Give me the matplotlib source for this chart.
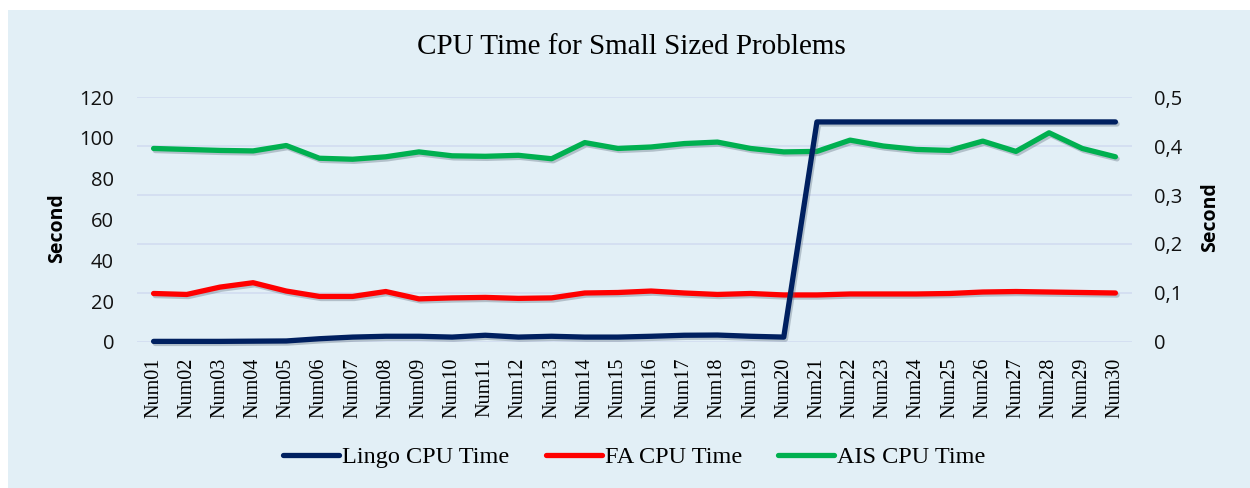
import matplotlib
matplotlib.use("Agg")
import matplotlib.pyplot as plt
from matplotlib.patches import Rectangle
import matplotlib.patheffects as pe

categories = [f"Num{i:02d}" for i in range(1, 31)]

lingo_cpu = [0.3, 0.3, 0.3, 0.4, 0.5, 1.6, 2.4, 2.8, 2.8, 2.4,
             3.3, 2.4, 2.8, 2.4, 2.4, 2.8, 3.3, 3.4, 2.8, 2.4,
             107.8, 107.8, 107.8, 107.8, 107.8, 107.8, 107.8, 107.8, 107.8, 107.8]

fa_cpu = [0.099, 0.097, 0.112, 0.121, 0.104, 0.093, 0.093, 0.103, 0.088, 0.090,
          0.091, 0.089, 0.090, 0.100, 0.101, 0.104, 0.100, 0.097, 0.099, 0.096,
          0.096, 0.098, 0.098, 0.098, 0.099, 0.102, 0.103, 0.102, 0.101, 0.100]

ais_cpu = [0.395, 0.393, 0.391, 0.390, 0.401, 0.375, 0.373, 0.378, 0.388, 0.380,
           0.379, 0.381, 0.374, 0.407, 0.395, 0.398, 0.405, 0.408, 0.395, 0.388,
           0.389, 0.412, 0.400, 0.393, 0.391, 0.410, 0.389, 0.427, 0.395, 0.378]

left_ticks = [0, 20, 40, 60, 80, 100, 120]
right_ticks = [0, 0.1, 0.2, 0.3, 0.4, 0.5]
right_tick_labels = ["0", "0,1", "0,2", "0,3", "0,4", "0,5"]

BG = "#E2EFF6"
GRID = "#D3DEF1"
C_LINGO = "#002060"
C_FA = "#FF0000"
C_AIS = "#00B050"

fig = plt.figure(figsize=(12.5, 4.88), dpi=100)
fig.patch.set_facecolor("white")
fig.patches.append(Rectangle((8 / 1250, 0), 1 - 8 / 1250, 1 - 10 / 488,
                             transform=fig.transFigure, facecolor=BG,
                             edgecolor="none", zorder=-10))

ax2 = fig.add_axes([0.1096, 0.2992, 0.796, 0.502])
ax = ax2.twinx()
ax.set_zorder(ax2.get_zorder() + 1)
ax.patch.set_visible(False)
ax2.patch.set_visible(False)

x = list(range(1, 31))
shadow = [pe.SimpleLineShadow(offset=(1.2, -1.5), shadow_color="#5a6a7a", alpha=0.35),
          pe.Normal()]

l2, = ax2.plot(x, fa_cpu, color=C_FA, lw=3.8, solid_capstyle="round",
               solid_joinstyle="round", path_effects=shadow, label="FA CPU Time")
l3, = ax2.plot(x, ais_cpu, color=C_AIS, lw=3.8, solid_capstyle="round",
               solid_joinstyle="round", path_effects=shadow, label="AIS CPU Time")
l1, = ax.plot(x, lingo_cpu, color=C_LINGO, lw=3.8, solid_capstyle="round",
              solid_joinstyle="round", path_effects=shadow, label="Lingo CPU Time",
              clip_on=False)

ax2.set_xlim(0.5, 30.5)
ax2.set_ylim(0, 0.5)
ax.set_ylim(0, 120)

ax2.set_axisbelow(True)
ax2.yaxis.grid(True, color=GRID, lw=1.3)
ax2.xaxis.grid(False)

ax.yaxis.tick_left()
ax.yaxis.set_label_position("left")
ax2.yaxis.tick_right()
ax2.yaxis.set_label_position("right")

ax.set_yticks(left_ticks)
ax.set_yticklabels([str(t) for t in left_ticks])
ax2.set_yticks(right_ticks)
ax2.set_yticklabels(right_tick_labels)

ax2.set_xticks(x)
ax2.set_xticklabels(categories, rotation=90, fontfamily="Liberation Serif",
                    fontsize=14.5)
ax.tick_params(axis="x", labelbottom=False, labeltop=False)

for a in (ax, ax2):
    for s in a.spines.values():
        s.set_visible(False)
    a.tick_params(length=0)

ax.tick_params(axis="y", pad=16.5, labelsize=14.5)
ax2.tick_params(axis="y", pad=16, labelsize=14.5)
ax2.tick_params(axis="x", pad=11, labelbottom=True)
for lab in ax.get_yticklabels() + ax2.get_yticklabels():
    lab.set_fontfamily("Open Sans")
    lab.set_color("#111111")

fig.text(0.505, 0.9037, "CPU Time for Small Sized Problems", ha="center",
         va="center", fontfamily="Liberation Serif", fontsize=21)
fig.text(0.046, 0.533, "Second", rotation=90, ha="center", va="center",
         fontfamily="Open Sans", fontweight="bold", fontsize=14)
fig.text(0.968, 0.555, "Second", rotation=90, ha="center", va="center",
         fontfamily="Open Sans", fontweight="bold", fontsize=14)

leg = fig.legend(handles=[l1, l2, l3], loc="center", ncol=3,
                 bbox_to_anchor=(0.5076, 0.0635), frameon=False,
                 prop={"family": "Liberation Serif", "size": 17.5},
                 handlelength=2.3, handletextpad=0.12, columnspacing=1.5)
for h in leg.get_lines():
    h.set_path_effects([])
    h.set_solid_capstyle("round")

fig.savefig("out.png", dpi=100, facecolor=fig.get_facecolor())
